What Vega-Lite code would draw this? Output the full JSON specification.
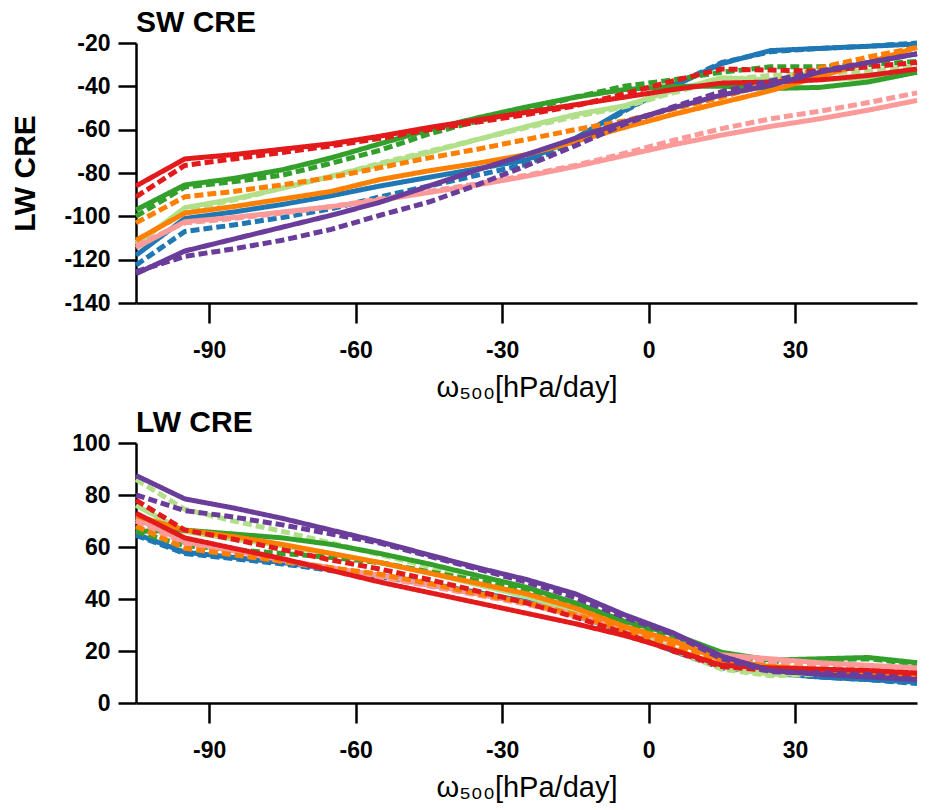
{
  "$schema": "https://vega.github.io/schema/vega-lite/v6.json",
  "padding": {"left": 10, "top": 8, "right": 5, "bottom": 2},
  "background": "white",
  "config": {
    "view": {"stroke": null},
    "font": "Liberation Sans",
    "axis": {"domainColor": "black", "domainWidth": 2.5, "tickColor": "black", "tickWidth": 2.5, "labelColor": "black", "labelFont": "Liberation Sans", "labelFontWeight": "bold", "labelFontSize": 23, "titleColor": "black", "titleFont": "Liberation Sans", "grid": false},
    "axisX": {"tickSize": 20, "labelPadding": 16, "titleFontSize": 29, "titleFontWeight": "normal", "titlePadding": 11},
    "axisY": {"tickSize": 18, "labelPadding": 8, "titleFontSize": 30, "titleFontWeight": "bold", "titlePadding": 23},
    "title": {"anchor": "start", "frame": "group", "fontSize": 30, "fontWeight": "bold", "color": "black", "font": "Liberation Sans", "baseline": "alphabetic", "offset": -6}
  },
  "spacing": 6,
  "datasets": {
    "cre": [
      {"c":"blue","s":"solid","w":-105,"sw":-118,"lw":65},{"c":"blue","s":"solid","w":-95,"sw":-101,"lw":58},{"c":"blue","s":"solid","w":-85,"sw":-98,"lw":56},{"c":"blue","s":"solid","w":-75,"sw":-94.5,"lw":54},{"c":"blue","s":"solid","w":-65,"sw":-90.5,"lw":51.5},{"c":"blue","s":"solid","w":-55,"sw":-86,"lw":49},{"c":"blue","s":"solid","w":-45,"sw":-82,"lw":46},{"c":"blue","s":"solid","w":-35,"sw":-78,"lw":42.5},{"c":"blue","s":"solid","w":-25,"sw":-74,"lw":39},{"c":"blue","s":"solid","w":-15,"sw":-64,"lw":34},{"c":"blue","s":"solid","w":-5,"sw":-51,"lw":28},{"c":"blue","s":"solid","w":5,"sw":-40,"lw":20.5},{"c":"blue","s":"solid","w":15,"sw":-29.5,"lw":14},{"c":"blue","s":"solid","w":25,"sw":-23.5,"lw":11.5},{"c":"blue","s":"solid","w":35,"sw":-22.5,"lw":10},{"c":"blue","s":"solid","w":45,"sw":-21.5,"lw":9},{"c":"blue","s":"solid","w":55,"sw":-20.5,"lw":8},
      {"c":"blue","s":"dashed","w":-105,"sw":-122.5,"lw":64.5},{"c":"blue","s":"dashed","w":-95,"sw":-107,"lw":57.5},{"c":"blue","s":"dashed","w":-85,"sw":-104,"lw":55.5},{"c":"blue","s":"dashed","w":-75,"sw":-100.5,"lw":53.5},{"c":"blue","s":"dashed","w":-65,"sw":-96.5,"lw":51},{"c":"blue","s":"dashed","w":-55,"sw":-91,"lw":48.5},{"c":"blue","s":"dashed","w":-45,"sw":-86,"lw":45.5},{"c":"blue","s":"dashed","w":-35,"sw":-81,"lw":42},{"c":"blue","s":"dashed","w":-25,"sw":-76,"lw":38.5},{"c":"blue","s":"dashed","w":-15,"sw":-65,"lw":33.5},{"c":"blue","s":"dashed","w":-5,"sw":-51.5,"lw":27.5},{"c":"blue","s":"dashed","w":5,"sw":-39.5,"lw":20},{"c":"blue","s":"dashed","w":15,"sw":-29,"lw":13.5},{"c":"blue","s":"dashed","w":25,"sw":-24,"lw":11.5},{"c":"blue","s":"dashed","w":35,"sw":-22.5,"lw":10},{"c":"blue","s":"dashed","w":45,"sw":-21.5,"lw":9},{"c":"blue","s":"dashed","w":55,"sw":-20,"lw":7.5},
      {"c":"lightgreen","s":"solid","w":-105,"sw":-113,"lw":76},{"c":"lightgreen","s":"solid","w":-95,"sw":-96,"lw":66},{"c":"lightgreen","s":"solid","w":-85,"sw":-92,"lw":63},{"c":"lightgreen","s":"solid","w":-75,"sw":-87,"lw":60.5},{"c":"lightgreen","s":"solid","w":-65,"sw":-81.5,"lw":57.5},{"c":"lightgreen","s":"solid","w":-55,"sw":-76,"lw":54},{"c":"lightgreen","s":"solid","w":-45,"sw":-70.5,"lw":50},{"c":"lightgreen","s":"solid","w":-35,"sw":-64.5,"lw":45.5},{"c":"lightgreen","s":"solid","w":-25,"sw":-58.5,"lw":41},{"c":"lightgreen","s":"solid","w":-15,"sw":-53,"lw":35},{"c":"lightgreen","s":"solid","w":-5,"sw":-49,"lw":28.5},{"c":"lightgreen","s":"solid","w":5,"sw":-42,"lw":21},{"c":"lightgreen","s":"solid","w":15,"sw":-36,"lw":14},{"c":"lightgreen","s":"solid","w":25,"sw":-37,"lw":11},{"c":"lightgreen","s":"solid","w":35,"sw":-37,"lw":11.5},{"c":"lightgreen","s":"solid","w":45,"sw":-36,"lw":11.5},{"c":"lightgreen","s":"solid","w":55,"sw":-33.5,"lw":11},
      {"c":"lightgreen","s":"dashed","w":-105,"sw":-112,"lw":86},{"c":"lightgreen","s":"dashed","w":-95,"sw":-97,"lw":74.5},{"c":"lightgreen","s":"dashed","w":-85,"sw":-92.5,"lw":70},{"c":"lightgreen","s":"dashed","w":-75,"sw":-87,"lw":66},{"c":"lightgreen","s":"dashed","w":-65,"sw":-81.5,"lw":61.5},{"c":"lightgreen","s":"dashed","w":-55,"sw":-75.5,"lw":57},{"c":"lightgreen","s":"dashed","w":-45,"sw":-70,"lw":52.5},{"c":"lightgreen","s":"dashed","w":-35,"sw":-64.5,"lw":47.5},{"c":"lightgreen","s":"dashed","w":-25,"sw":-59,"lw":42.5},{"c":"lightgreen","s":"dashed","w":-15,"sw":-54,"lw":36},{"c":"lightgreen","s":"dashed","w":-5,"sw":-49.5,"lw":29},{"c":"lightgreen","s":"dashed","w":5,"sw":-43,"lw":20.5},{"c":"lightgreen","s":"dashed","w":15,"sw":-37,"lw":13},{"c":"lightgreen","s":"dashed","w":25,"sw":-35,"lw":10.5},{"c":"lightgreen","s":"dashed","w":35,"sw":-34,"lw":11},{"c":"lightgreen","s":"dashed","w":45,"sw":-33,"lw":11},{"c":"lightgreen","s":"dashed","w":55,"sw":-31,"lw":10.5},
      {"c":"green","s":"solid","w":-105,"sw":-97,"lw":66},{"c":"green","s":"solid","w":-95,"sw":-85.5,"lw":66.5},{"c":"green","s":"solid","w":-85,"sw":-82.5,"lw":65},{"c":"green","s":"solid","w":-75,"sw":-78.5,"lw":63.5},{"c":"green","s":"solid","w":-65,"sw":-73,"lw":61},{"c":"green","s":"solid","w":-55,"sw":-66.5,"lw":57.5},{"c":"green","s":"solid","w":-45,"sw":-60,"lw":53.5},{"c":"green","s":"solid","w":-35,"sw":-54.5,"lw":49},{"c":"green","s":"solid","w":-25,"sw":-49.5,"lw":44.5},{"c":"green","s":"solid","w":-15,"sw":-45,"lw":38.5},{"c":"green","s":"solid","w":-5,"sw":-41.5,"lw":31.5},{"c":"green","s":"solid","w":5,"sw":-40,"lw":26.5},{"c":"green","s":"solid","w":15,"sw":-40,"lw":19.5},{"c":"green","s":"solid","w":25,"sw":-41,"lw":16.5},{"c":"green","s":"solid","w":35,"sw":-40.5,"lw":17},{"c":"green","s":"solid","w":45,"sw":-38,"lw":17.5},{"c":"green","s":"solid","w":55,"sw":-33.5,"lw":15.5},
      {"c":"green","s":"dashed","w":-105,"sw":-100,"lw":66},{"c":"green","s":"dashed","w":-95,"sw":-86.5,"lw":60.5},{"c":"green","s":"dashed","w":-85,"sw":-84,"lw":59},{"c":"green","s":"dashed","w":-75,"sw":-81,"lw":57.5},{"c":"green","s":"dashed","w":-65,"sw":-75.5,"lw":56},{"c":"green","s":"dashed","w":-55,"sw":-69.5,"lw":54},{"c":"green","s":"dashed","w":-45,"sw":-62,"lw":50.5},{"c":"green","s":"dashed","w":-35,"sw":-56,"lw":47},{"c":"green","s":"dashed","w":-25,"sw":-51,"lw":43},{"c":"green","s":"dashed","w":-15,"sw":-45,"lw":37.5},{"c":"green","s":"dashed","w":-5,"sw":-40,"lw":30.5},{"c":"green","s":"dashed","w":5,"sw":-37,"lw":25.5},{"c":"green","s":"dashed","w":15,"sw":-33.5,"lw":18.5},{"c":"green","s":"dashed","w":25,"sw":-31,"lw":16},{"c":"green","s":"dashed","w":35,"sw":-31,"lw":16.5},{"c":"green","s":"dashed","w":45,"sw":-30,"lw":17},{"c":"green","s":"dashed","w":55,"sw":-28.5,"lw":15},
      {"c":"pink","s":"solid","w":-105,"sw":-114.5,"lw":71},{"c":"pink","s":"solid","w":-95,"sw":-102.5,"lw":62},{"c":"pink","s":"solid","w":-85,"sw":-100.5,"lw":58.5},{"c":"pink","s":"solid","w":-75,"sw":-98,"lw":55},{"c":"pink","s":"solid","w":-65,"sw":-95.5,"lw":52},{"c":"pink","s":"solid","w":-55,"sw":-92.5,"lw":49},{"c":"pink","s":"solid","w":-45,"sw":-89,"lw":45.5},{"c":"pink","s":"solid","w":-35,"sw":-85.5,"lw":42},{"c":"pink","s":"solid","w":-25,"sw":-81.5,"lw":38.5},{"c":"pink","s":"solid","w":-15,"sw":-77,"lw":34},{"c":"pink","s":"solid","w":-5,"sw":-72,"lw":29},{"c":"pink","s":"solid","w":5,"sw":-67,"lw":23.5},{"c":"pink","s":"solid","w":15,"sw":-62.5,"lw":18.5},{"c":"pink","s":"solid","w":25,"sw":-58.5,"lw":17},{"c":"pink","s":"solid","w":35,"sw":-55,"lw":15.5},{"c":"pink","s":"solid","w":45,"sw":-51,"lw":14.5},{"c":"pink","s":"solid","w":55,"sw":-46.5,"lw":13.5},
      {"c":"pink","s":"dashed","w":-105,"sw":-113.5,"lw":70},{"c":"pink","s":"dashed","w":-95,"sw":-103,"lw":61.5},{"c":"pink","s":"dashed","w":-85,"sw":-101,"lw":58},{"c":"pink","s":"dashed","w":-75,"sw":-98.5,"lw":54.5},{"c":"pink","s":"dashed","w":-65,"sw":-95.5,"lw":51.5},{"c":"pink","s":"dashed","w":-55,"sw":-92,"lw":48.5},{"c":"pink","s":"dashed","w":-45,"sw":-88.5,"lw":45},{"c":"pink","s":"dashed","w":-35,"sw":-85,"lw":41.5},{"c":"pink","s":"dashed","w":-25,"sw":-81,"lw":38},{"c":"pink","s":"dashed","w":-15,"sw":-76.5,"lw":33.5},{"c":"pink","s":"dashed","w":-5,"sw":-71,"lw":28},{"c":"pink","s":"dashed","w":5,"sw":-65,"lw":22},{"c":"pink","s":"dashed","w":15,"sw":-59.5,"lw":17},{"c":"pink","s":"dashed","w":25,"sw":-55,"lw":15.5},{"c":"pink","s":"dashed","w":35,"sw":-51.5,"lw":14},{"c":"pink","s":"dashed","w":45,"sw":-47.5,"lw":13.5},{"c":"pink","s":"dashed","w":55,"sw":-43,"lw":13},
      {"c":"orange","s":"solid","w":-105,"sw":-111,"lw":72},{"c":"orange","s":"solid","w":-95,"sw":-98.5,"lw":66.5},{"c":"orange","s":"solid","w":-85,"sw":-95.5,"lw":64},{"c":"orange","s":"solid","w":-75,"sw":-92,"lw":61},{"c":"orange","s":"solid","w":-65,"sw":-88.5,"lw":57.5},{"c":"orange","s":"solid","w":-55,"sw":-83,"lw":54},{"c":"orange","s":"solid","w":-45,"sw":-79,"lw":50},{"c":"orange","s":"solid","w":-35,"sw":-75.5,"lw":46},{"c":"orange","s":"solid","w":-25,"sw":-71.5,"lw":42},{"c":"orange","s":"solid","w":-15,"sw":-65.5,"lw":36.5},{"c":"orange","s":"solid","w":-5,"sw":-59,"lw":29.5},{"c":"orange","s":"solid","w":5,"sw":-53,"lw":24},{"c":"orange","s":"solid","w":15,"sw":-47.5,"lw":16.5},{"c":"orange","s":"solid","w":25,"sw":-42,"lw":14},{"c":"orange","s":"solid","w":35,"sw":-35.5,"lw":13},{"c":"orange","s":"solid","w":45,"sw":-29,"lw":12},{"c":"orange","s":"solid","w":55,"sw":-22,"lw":11},
      {"c":"orange","s":"dashed","w":-105,"sw":-103,"lw":68},{"c":"orange","s":"dashed","w":-95,"sw":-91,"lw":59.5},{"c":"orange","s":"dashed","w":-85,"sw":-88.5,"lw":57},{"c":"orange","s":"dashed","w":-75,"sw":-85.5,"lw":54.5},{"c":"orange","s":"dashed","w":-65,"sw":-82,"lw":52},{"c":"orange","s":"dashed","w":-55,"sw":-77.5,"lw":49.5},{"c":"orange","s":"dashed","w":-45,"sw":-73,"lw":46},{"c":"orange","s":"dashed","w":-35,"sw":-69,"lw":42},{"c":"orange","s":"dashed","w":-25,"sw":-64.5,"lw":38.5},{"c":"orange","s":"dashed","w":-15,"sw":-60,"lw":34},{"c":"orange","s":"dashed","w":-5,"sw":-56,"lw":28},{"c":"orange","s":"dashed","w":5,"sw":-50.5,"lw":22.5},{"c":"orange","s":"dashed","w":15,"sw":-45,"lw":15.5},{"c":"orange","s":"dashed","w":25,"sw":-38.5,"lw":13},{"c":"orange","s":"dashed","w":35,"sw":-31.5,"lw":12},{"c":"orange","s":"dashed","w":45,"sw":-26.5,"lw":11},{"c":"orange","s":"dashed","w":55,"sw":-22,"lw":10},
      {"c":"red","s":"solid","w":-105,"sw":-86,"lw":73},{"c":"red","s":"solid","w":-95,"sw":-73.5,"lw":63.5},{"c":"red","s":"solid","w":-85,"sw":-71.5,"lw":59.5},{"c":"red","s":"solid","w":-75,"sw":-69,"lw":55.5},{"c":"red","s":"solid","w":-65,"sw":-66.5,"lw":51},{"c":"red","s":"solid","w":-55,"sw":-63,"lw":46.5},{"c":"red","s":"solid","w":-45,"sw":-59,"lw":42.5},{"c":"red","s":"solid","w":-35,"sw":-55.5,"lw":38.5},{"c":"red","s":"solid","w":-25,"sw":-52,"lw":34.5},{"c":"red","s":"solid","w":-15,"sw":-48.5,"lw":30.5},{"c":"red","s":"solid","w":-5,"sw":-45,"lw":26},{"c":"red","s":"solid","w":5,"sw":-41.5,"lw":20.5},{"c":"red","s":"solid","w":15,"sw":-38.5,"lw":14.5},{"c":"red","s":"solid","w":25,"sw":-38,"lw":13.5},{"c":"red","s":"solid","w":35,"sw":-37,"lw":13},{"c":"red","s":"solid","w":45,"sw":-35,"lw":12.5},{"c":"red","s":"solid","w":55,"sw":-32,"lw":11.5},
      {"c":"red","s":"dashed","w":-105,"sw":-91,"lw":78},{"c":"red","s":"dashed","w":-95,"sw":-76.5,"lw":66.5},{"c":"red","s":"dashed","w":-85,"sw":-73.5,"lw":63},{"c":"red","s":"dashed","w":-75,"sw":-70.5,"lw":59},{"c":"red","s":"dashed","w":-65,"sw":-67.5,"lw":55},{"c":"red","s":"dashed","w":-55,"sw":-64,"lw":51.5},{"c":"red","s":"dashed","w":-45,"sw":-60,"lw":47.5},{"c":"red","s":"dashed","w":-35,"sw":-56.5,"lw":43},{"c":"red","s":"dashed","w":-25,"sw":-53,"lw":38.5},{"c":"red","s":"dashed","w":-15,"sw":-49,"lw":33},{"c":"red","s":"dashed","w":-5,"sw":-43.5,"lw":27},{"c":"red","s":"dashed","w":5,"sw":-37.5,"lw":20},{"c":"red","s":"dashed","w":15,"sw":-32,"lw":14},{"c":"red","s":"dashed","w":25,"sw":-32.5,"lw":12.5},{"c":"red","s":"dashed","w":35,"sw":-33,"lw":12},{"c":"red","s":"dashed","w":45,"sw":-31,"lw":11.5},{"c":"red","s":"dashed","w":55,"sw":-29,"lw":11},
      {"c":"purple","s":"solid","w":-105,"sw":-126.5,"lw":87.5},{"c":"purple","s":"solid","w":-95,"sw":-116,"lw":78.5},{"c":"purple","s":"solid","w":-85,"sw":-110.5,"lw":75},{"c":"purple","s":"solid","w":-75,"sw":-105,"lw":71},{"c":"purple","s":"solid","w":-65,"sw":-99.5,"lw":66.5},{"c":"purple","s":"solid","w":-55,"sw":-93.5,"lw":62},{"c":"purple","s":"solid","w":-45,"sw":-86,"lw":57},{"c":"purple","s":"solid","w":-35,"sw":-78.5,"lw":52},{"c":"purple","s":"solid","w":-25,"sw":-71.5,"lw":47.5},{"c":"purple","s":"solid","w":-15,"sw":-64,"lw":42},{"c":"purple","s":"solid","w":-5,"sw":-56.5,"lw":34},{"c":"purple","s":"solid","w":5,"sw":-50,"lw":27},{"c":"purple","s":"solid","w":15,"sw":-44,"lw":18},{"c":"purple","s":"solid","w":25,"sw":-39.5,"lw":12.5},{"c":"purple","s":"solid","w":35,"sw":-33.5,"lw":11},{"c":"purple","s":"solid","w":45,"sw":-29,"lw":10},{"c":"purple","s":"solid","w":55,"sw":-25,"lw":9},
      {"c":"purple","s":"dashed","w":-105,"sw":-125.5,"lw":80},{"c":"purple","s":"dashed","w":-95,"sw":-118.5,"lw":74},{"c":"purple","s":"dashed","w":-85,"sw":-115,"lw":71.5},{"c":"purple","s":"dashed","w":-75,"sw":-111,"lw":68.5},{"c":"purple","s":"dashed","w":-65,"sw":-106,"lw":65},{"c":"purple","s":"dashed","w":-55,"sw":-99.5,"lw":61.5},{"c":"purple","s":"dashed","w":-45,"sw":-93.4,"lw":56.5},{"c":"purple","s":"dashed","w":-35,"sw":-85.4,"lw":51.5},{"c":"purple","s":"dashed","w":-25,"sw":-76.6,"lw":46.5},{"c":"purple","s":"dashed","w":-15,"sw":-67.4,"lw":40.5},{"c":"purple","s":"dashed","w":-5,"sw":-57.5,"lw":33},{"c":"purple","s":"dashed","w":5,"sw":-49.5,"lw":26.5},{"c":"purple","s":"dashed","w":15,"sw":-42.5,"lw":17},{"c":"purple","s":"dashed","w":25,"sw":-37.5,"lw":12},{"c":"purple","s":"dashed","w":35,"sw":-33,"lw":11.5},{"c":"purple","s":"dashed","w":45,"sw":-29,"lw":11},{"c":"purple","s":"dashed","w":55,"sw":-25,"lw":9}
    ]
  },
  "vconcat": [
    {
      "data": {"name": "cre"},
      "width": 781,
      "height": 260,
      "title": {"text": "SW CRE"},
      "mark": {"type": "line", "strokeWidth": 5, "strokeCap": "butt", "strokeJoin": "round"},
      "encoding": {
        "x": {"field": "w", "type": "quantitative", "scale": {"domain": [-105, 55], "nice": false, "zero": false}, "axis": {"values": [-90, -60, -30, 0, 30], "title": "ω₅₀₀[hPa/day]", "labelExpr": "datum.value < 0 ? '-' + format(-datum.value, 'd') : format(datum.value, 'd')"}},
        "y": {"field": "sw", "type": "quantitative", "scale": {"domain": [-140, -20], "nice": false, "zero": false}, "axis": {"values": [-140, -120, -100, -80, -60, -40, -20], "title": "LW CRE", "labelExpr": "datum.value < 0 ? '-' + format(-datum.value, 'd') : format(datum.value, 'd')"}},
        "color": {"field": "c", "type": "nominal", "scale": {"domain": ["blue", "lightgreen", "green", "pink", "orange", "red", "purple"], "range": ["#1f78b4", "#b2df8a", "#33a02c", "#fb9a99", "#ff7f00", "#e31a1c", "#6a3d9a"]}, "legend": null},
        "strokeDash": {"field": "s", "type": "nominal", "scale": {"domain": ["solid", "dashed"], "range": [[1, 0], [9, 4]]}, "legend": null}
      }
    },
    {
      "data": {"name": "cre"},
      "width": 781,
      "height": 260,
      "title": {"text": "LW CRE"},
      "mark": {"type": "line", "strokeWidth": 5, "strokeCap": "butt", "strokeJoin": "round"},
      "encoding": {
        "x": {"field": "w", "type": "quantitative", "scale": {"domain": [-105, 55], "nice": false, "zero": false}, "axis": {"values": [-90, -60, -30, 0, 30], "title": "ω₅₀₀[hPa/day]", "labelExpr": "datum.value < 0 ? '-' + format(-datum.value, 'd') : format(datum.value, 'd')"}},
        "y": {"field": "lw", "type": "quantitative", "scale": {"domain": [0, 100], "nice": false, "zero": false}, "axis": {"values": [0, 20, 40, 60, 80, 100], "title": null}},
        "color": {"field": "c", "type": "nominal", "scale": {"domain": ["blue", "lightgreen", "green", "pink", "orange", "red", "purple"], "range": ["#1f78b4", "#b2df8a", "#33a02c", "#fb9a99", "#ff7f00", "#e31a1c", "#6a3d9a"]}, "legend": null},
        "strokeDash": {"field": "s", "type": "nominal", "scale": {"domain": ["solid", "dashed"], "range": [[1, 0], [9, 4]]}, "legend": null}
      }
    }
  ]
}
